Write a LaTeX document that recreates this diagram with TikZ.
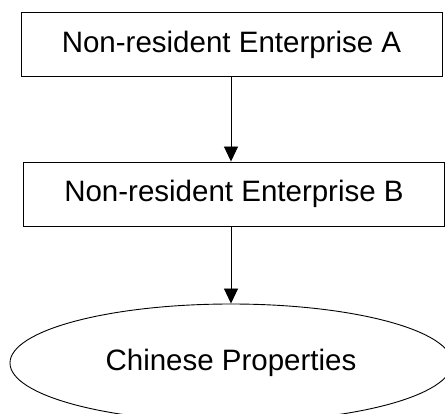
\documentclass[tikz,border=0pt]{standalone}
\usepackage{fontspec}
\setmainfont{Liberation Sans}
\usetikzlibrary{arrows.meta,shapes.geometric}

\begin{document}
\begin{tikzpicture}[x=1pt,y=-1pt,
    firm/.style={draw,line width=0.9pt,minimum width=421pt,minimum height=64pt,inner sep=0pt,font=\fontsize{29.5}{33}\selectfont},
    asset/.style={draw,ellipse,line width=0.9pt,minimum width=442pt,minimum height=118pt,inner sep=0pt,font=\fontsize{29.5}{33}\selectfont},
    link/.style={line width=0.9pt,-{Triangle[width=14pt,length=15pt]}}]
  \useasboundingbox (0,0) rectangle (445,414);

  % Unternehmen
  \node[firm] (entA) at (231.5,44.5) {Non-resident Enterprise A};
  \node[firm] (entB) at (234,194) {Non-resident Enterprise B};

  % Vermoegen
  \node[asset] (prop) at (231,363) {Chinese Properties};

  % Pfeile
  \draw[link] (entA.south -| prop.north) -- (entB.north -| prop.north);
  \draw[link] (entB.south -| prop.north) -- (prop.north);

\end{tikzpicture}
\end{document}
